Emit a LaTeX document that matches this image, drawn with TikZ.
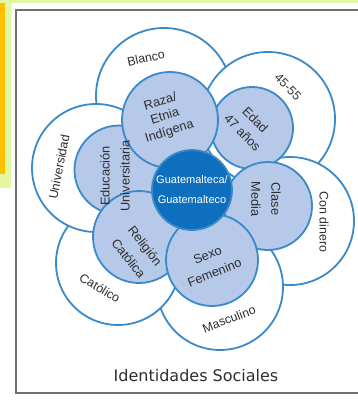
\documentclass[tikz,border=0pt]{standalone}
\usepackage{fontspec}
\setmainfont{Liberation Sans}
\newfontfamily\titlefont{DejaVu Sans}
\definecolor{bord}{HTML}{3A89C9}
\definecolor{lightfill}{HTML}{B6C9E8}
\definecolor{centerfill}{HTML}{0E6FBE}
\definecolor{txt}{HTML}{2E2E2E}
\definecolor{bggreen}{HTML}{E2F7A2}
\definecolor{gold}{HTML}{FFC000}
\definecolor{framegray}{HTML}{707070}
\begin{document}
\begin{tikzpicture}[x=1pt,y=-1pt,
  ring/.style={circle, draw=bord, line width=1.8pt, inner sep=0pt, minimum size=#1},
  outer/.style={ring=#1, fill=white},
  inner/.style={ring=#1, fill=lightfill},
  core/.style={ring=#1, fill=centerfill},
  lbl/.style={text=txt, align=center, inner sep=0pt, font=\fontsize{12.8pt}{20pt}\selectfont},
  olbl/.style={text=txt, align=center, inner sep=0pt, font=\fontsize{12.4pt}{18pt}\selectfont},
  clbl/.style={text=white, align=center, inner sep=0pt, font=\fontsize{11pt}{20pt}\selectfont}]
\useasboundingbox (0,0) rectangle (358,404);
% background
\fill[white] (0,0) rectangle (358,404);
\fill[bggreen] (0,0) rectangle (358,3);
\fill[bggreen] (0,0) rectangle (11,188);
\fill[gold] (0,3) rectangle (5,174);
% frame
\draw[framegray, line width=2.2pt] (358,10) -- (16,10) -- (16,393) -- (358,393);
% outer circles
\node[outer=136pt] (blanco) at (164,96) {};
\node[outer=134pt] (edadr) at (268,119) {};
\node[outer=128pt] (dinero) at (290,221) {};
\node[outer=126pt] (masc) at (220,287) {};
\node[outer=124pt] (catol) at (118,263) {};
\node[outer=128pt] (univ) at (96,168) {};
% inner circles
\node[inner=89pt] (educ) at (119,170) {};
\node[inner=82pt] (edad) at (252,128) {};
\node[inner=96pt] (raza) at (170,120) {};
\node[inner=88pt] (clase) at (268,206) {};
\node[inner=92pt] (relig) at (139,237) {};
\node[inner=92pt] (sexo) at (212,260) {};
% center
\node[core=80pt] (guate) at (192,190) {};
% texts
\node[clbl] (tguate) at (192,190) {Guatemalteca/\\Guatemalteco};
\node[lbl, rotate=17, font=\fontsize{12.8pt}{15.5pt}\selectfont] (traza) at (165,117) {Raza/\\Etnia\\Indígena};
\node[lbl, rotate=-45, font=\fontsize{12.8pt}{18pt}\selectfont] (tedad) at (249,126) {Edad\\47 años};
\node[lbl, rotate=-90] (tclase) at (266,199) {Clase\\Media};
\node[lbl, rotate=22, font=\fontsize{12.8pt}{19pt}\selectfont] (tsexo) at (211,264) {Sexo\\Femenino};
\node[lbl, rotate=-52, font=\fontsize{12.8pt}{21pt}\selectfont] (trelig) at (137,252) {Religión\\Católica};
\node[lbl, rotate=90] (teduc) at (115,176) {Educación\\Universitaria};
\node[olbl, rotate=12] (tblanco) at (146,58) {Blanco};
\node[olbl, rotate=-45] (t4555) at (288,87) {45-55};
\node[olbl, rotate=-90] (tdinero) at (324,222) {Con dinero};
\node[olbl, rotate=21] (tmasc) at (229,319) {Masculino};
\node[olbl, rotate=-31] (tcatol) at (100,288) {Católico};
\node[olbl, rotate=79] (tuniv) at (59,167) {Universidad};
\node[text=txt, inner sep=0pt, font=\titlefont\fontsize{16pt}{19pt}\selectfont] (title) at (196,376) {Identidades Sociales};
\end{tikzpicture}
\end{document}
